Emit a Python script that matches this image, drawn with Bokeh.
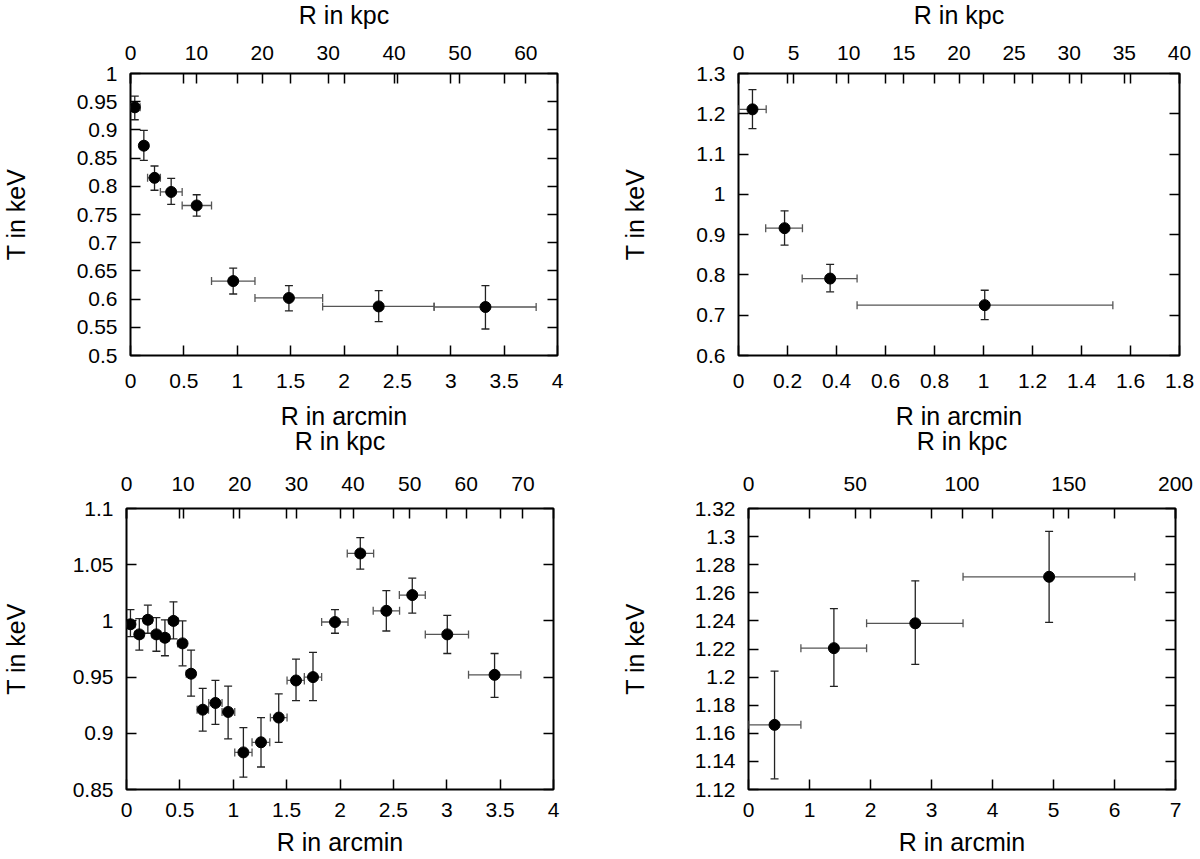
from bokeh.plotting import figure
from bokeh.models import (ColumnDataSource, Range1d, LinearAxis, FixedTicker,
                          Whisker, TeeHead, CustomJSTickFormatter)
from bokeh.layouts import column, row
from bokeh.embed import file_html
from bokeh.resources import INLINE

# panel 1 (top left)
r1 = [0.04, 0.125, 0.225, 0.381, 0.62, 0.962, 1.484, 2.325, 3.325]
r1_lo = [0.0, 0.09, 0.16, 0.28, 0.484, 0.759, 1.166, 1.8, 2.844]
r1_hi = [0.09, 0.16, 0.28, 0.484, 0.759, 1.166, 1.8, 2.844, 3.8]
t1 = [0.940, 0.872, 0.815, 0.790, 0.766, 0.632, 0.602, 0.587, 0.586]
t1_lo = [0.918, 0.846, 0.793, 0.768, 0.747, 0.609, 0.579, 0.560, 0.547]
t1_hi = [0.960, 0.899, 0.836, 0.814, 0.785, 0.655, 0.624, 0.615, 0.624]

# panel 2 (top right)
r2 = [0.057, 0.188, 0.374, 1.005]
r2_lo = [0.0, 0.111, 0.26, 0.484]
r2_hi = [0.113, 0.261, 0.484, 1.528]
t2 = [1.211, 0.916, 0.791, 0.725]
t2_lo = [1.163, 0.874, 0.758, 0.689]
t2_hi = [1.260, 0.959, 0.826, 0.762]

# panel 3 (bottom left)
r3 = [0.037, 0.12, 0.2, 0.28, 0.36, 0.44, 0.525, 0.605, 0.714, 0.833, 0.952,
      1.095, 1.26, 1.426, 1.588, 1.747, 1.953, 2.19, 2.434, 2.677, 3.005, 3.448]
r3_lo = [0.0, 0.08, 0.16, 0.24, 0.32, 0.40, 0.48, 0.56, 0.661, 0.77, 0.895,
         1.014, 1.176, 1.348, 1.504, 1.666, 1.828, 2.068, 2.311, 2.556, 2.799, 3.204]
r3_hi = [0.08, 0.16, 0.24, 0.32, 0.40, 0.48, 0.56, 0.64, 0.768, 0.895, 1.014,
         1.176, 1.342, 1.504, 1.666, 1.828, 2.075, 2.315, 2.558, 2.799, 3.204, 3.694]
t3 = [0.997, 0.988, 1.001, 0.988, 0.985, 1.000, 0.980, 0.953, 0.921, 0.927, 0.919,
      0.883, 0.892, 0.914, 0.947, 0.950, 0.999, 1.060, 1.009, 1.023, 0.988, 0.952]
t3_lo = [0.986, 0.974, 0.989, 0.973, 0.969, 0.984, 0.960, 0.933, 0.902, 0.908, 0.895,
         0.861, 0.870, 0.892, 0.929, 0.929, 0.989, 1.046, 0.991, 1.007, 0.971, 0.932]
t3_hi = [1.010, 1.002, 1.014, 1.003, 1.001, 1.017, 1.000, 0.974, 0.940, 0.947, 0.942,
         0.905, 0.914, 0.935, 0.966, 0.972, 1.010, 1.074, 1.027, 1.038, 1.005, 0.971]

# panel 4 (bottom right)
r4 = [0.427, 1.40, 2.734, 4.928]
r4_lo = [0.0, 0.859, 1.936, 3.517]
r4_hi = [0.859, 1.936, 3.517, 6.333]
t4 = [1.166, 1.2206, 1.2383, 1.2714]
t4_lo = [1.1276, 1.1934, 1.2090, 1.2390]
t4_hi = [1.2043, 1.2487, 1.2685, 1.3037]

# axis ranges and ticks
arcmin_ticks = [[0, 0.5, 1, 1.5, 2, 2.5, 3, 3.5, 4],
                [0, 0.2, 0.4, 0.6, 0.8, 1, 1.2, 1.4, 1.6, 1.8],
                [0, 0.5, 1, 1.5, 2, 2.5, 3, 3.5, 4],
                [0, 1, 2, 3, 4, 5, 6, 7]]
kpc_ticks = [[0, 10, 20, 30, 40, 50, 60],
             [0, 5, 10, 15, 20, 25, 30, 35, 40],
             [0, 10, 20, 30, 40, 50, 60, 70],
             [0, 50, 100, 150, 200]]
t_ticks = [[0.5, 0.55, 0.6, 0.65, 0.7, 0.75, 0.8, 0.85, 0.9, 0.95, 1.0],
           [0.6, 0.7, 0.8, 0.9, 1.0, 1.1, 1.2, 1.3],
           [0.85, 0.9, 0.95, 1.0, 1.05, 1.1],
           [1.12, 1.14, 1.16, 1.18, 1.2, 1.22, 1.24, 1.26, 1.28, 1.3, 1.32]]
arcmin_max = [4, 1.8, 4, 7]
kpc_max = [64.8, 40, 75.4, 200]

FONT = "Liberation Sans"
fmt_code = "return String(parseFloat(tick.toFixed(4)));"


def style_axis(ax, standoff, label_standoff):
    ax.major_tick_in = 10
    ax.major_tick_out = 0
    ax.minor_tick_in = 0
    ax.minor_tick_out = 0
    ax.major_tick_line_width = 1.5
    ax.major_tick_line_color = "black"
    ax.axis_line_color = None
    ax.major_label_text_font = FONT
    ax.major_label_text_font_size = "21px"
    ax.major_label_text_color = "black"
    ax.major_label_standoff = standoff
    ax.axis_label_text_font = FONT
    ax.axis_label_text_font_size = "25px"
    ax.axis_label_text_font_style = "normal"
    ax.axis_label_text_color = "black"
    ax.axis_label_standoff = label_standoff
    ax.formatter = CustomJSTickFormatter(code=fmt_code)


def panel(i, r, rlo, rhi, t, tlo, thi, w, h, borders, stand, margin):
    left, right, top, bottom = borders
    s_bot, s_botlab, s_top, s_toplab, s_ylab = stand
    p = figure(width=w, height=h, output_backend="svg", toolbar_location=None,
               x_range=Range1d(0, arcmin_max[i]),
               y_range=Range1d(t_ticks[i][0], t_ticks[i][-1]),
               min_border_left=left, min_border_right=right,
               min_border_top=top, min_border_bottom=bottom, margin=margin)
    p.grid.visible = False
    p.outline_line_color = "black"
    p.outline_line_width = 2
    p.background_fill_color = "white"
    p.border_fill_color = None

    p.xaxis.ticker = FixedTicker(ticks=arcmin_ticks[i])
    p.yaxis.ticker = FixedTicker(ticks=t_ticks[i])
    p.xaxis.axis_label = "R in arcmin"
    p.yaxis.axis_label = "T in keV"
    style_axis(p.xaxis[0], s_bot, s_botlab)
    style_axis(p.yaxis[0], 13, s_ylab)

    # kpc axis on top; arcmin ticks mirrored there as unlabelled minor ticks
    f = kpc_max[i] / arcmin_max[i]
    p.extra_x_ranges = {"kpc": Range1d(0, kpc_max[i])}
    top_ax = LinearAxis(x_range_name="kpc", axis_label="R in kpc",
                        ticker=FixedTicker(ticks=kpc_ticks[i],
                                           minor_ticks=[a * f for a in arcmin_ticks[i]]))
    style_axis(top_ax, s_top, s_toplab)
    top_ax.minor_tick_in = 10
    top_ax.minor_tick_line_width = 1.5
    top_ax.minor_tick_line_color = "black"
    p.add_layout(top_ax, "above")

    right_ax = LinearAxis(ticker=FixedTicker(ticks=t_ticks[i]))
    style_axis(right_ax, 0, 0)
    right_ax.formatter = CustomJSTickFormatter(code="return '';")
    p.add_layout(right_ax, "right")

    src = ColumnDataSource(data=dict(r=r, rlo=rlo, rhi=rhi, t=t, tlo=tlo, thi=thi))
    p.add_layout(Whisker(source=src, base="t", lower="rlo", upper="rhi",
                         dimension="width", line_color="#555555", line_width=1.3,
                         lower_head=TeeHead(size=8, line_color="#555555", line_width=1.3),
                         upper_head=TeeHead(size=8, line_color="#555555", line_width=1.3)))
    p.add_layout(Whisker(source=src, base="r", lower="tlo", upper="thi",
                         dimension="height", line_color="#222222", line_width=1.3,
                         lower_head=TeeHead(size=8, line_color="#222222", line_width=1.3),
                         upper_head=TeeHead(size=8, line_color="#222222", line_width=1.3)))
    p.scatter("r", "t", source=src, size=11, color="black")
    return p


# rows overlap a little (transparent borders) so the axis titles sit where
# they are in the original
p1 = panel(0, r1, r1_lo, r1_hi, t1, t1_lo, t1_hi, 602, 453,
           (132, 43, 85, 86), (18, 11, 14, 14, 44), (-12, 0, 0, -2))
p2 = panel(1, r2, r2_lo, r2_hi, t2, t2_lo, t2_hi, 600, 453,
           (138, 21, 85, 86), (18, 11, 14, 14, 44), (-12, 0, 0, 0))
p3 = panel(2, r3, r3_lo, r3_hi, t3, t3_lo, t3_hi, 602, 452,
           (128, 47, 94, 77), (13, 8, 18, 19, 40), (-27, 0, -7, -2))
p4 = panel(3, r4, r4_lo, r4_hi, t4, t4_lo, t4_hi, 600, 452,
           (148, 25, 94, 77), (13, 8, 18, 19, 43), (-27, 0, -7, 0))

page = column(row(p1, p2), row(p3, p4), styles={"overflow": "hidden"})

open("out.html", "w").write(file_html(page, INLINE))
